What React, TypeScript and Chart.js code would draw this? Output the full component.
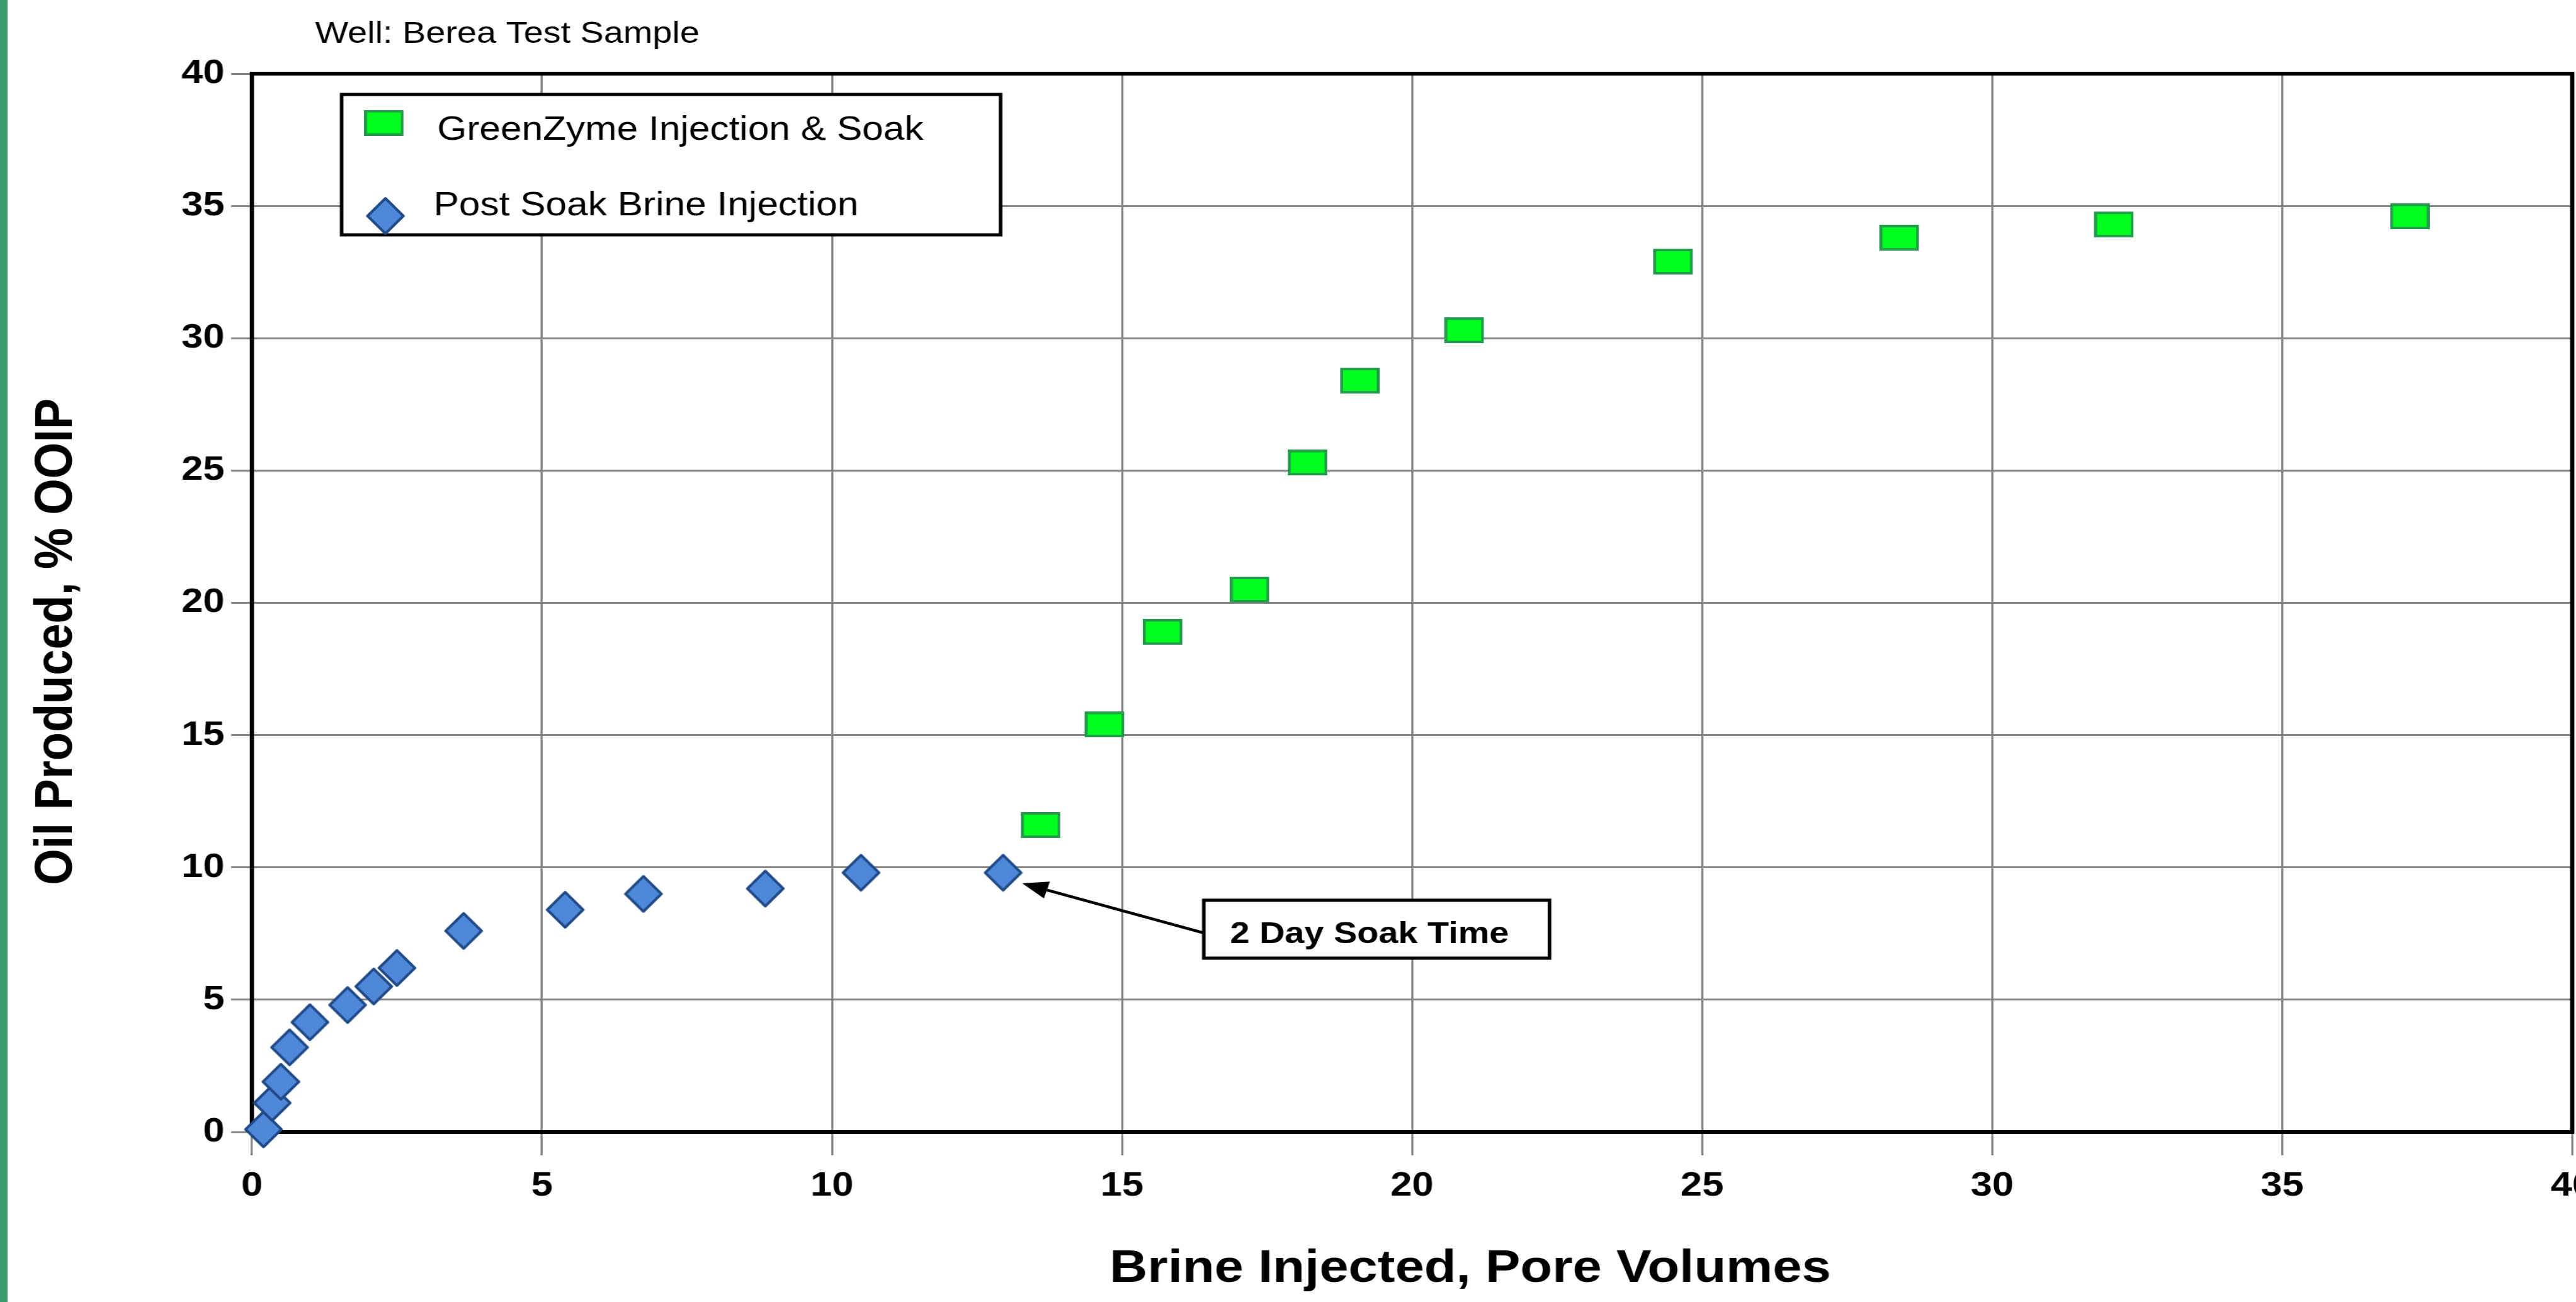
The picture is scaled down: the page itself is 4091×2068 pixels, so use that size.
import React, { useEffect, useRef } from 'react';
import { Chart, registerables } from 'chart.js';

Chart.register(...registerables);

// ---------- data ----------
const seriesNames = ['GreenZyme Injection & Soak', 'Post Soak Brine Injection'];
const soakX = [13.6, 14.7, 15.7, 17.2, 18.2, 19.1, 20.9, 24.5, 28.4, 32.1, 37.2];
const soakY = [11.6, 15.4, 18.9, 20.5, 25.3, 28.4, 30.3, 32.9, 33.8, 34.3, 34.6];
const brineX = [0.2, 0.35, 0.5, 0.65, 1.0, 1.65, 2.1, 2.5, 3.65, 5.4, 6.75, 8.85, 10.5, 12.95];
const brineY = [0.1, 1.1, 1.9, 3.2, 4.15, 4.8, 5.5, 6.2, 7.6, 8.4, 9.0, 9.2, 9.8, 9.8];
const xTicks = [0, 5, 10, 15, 20, 25, 30, 35, 40];
const yTicks = [0, 5, 10, 15, 20, 25, 30, 35, 40];
const chartTitle = 'Well: Berea Test Sample';
const xTitle = 'Brine Injected, Pore Volumes';
const yTitle = 'Oil Produced, % OOIP';
const noteText = '2 Day Soak Time';
const noteBox = { x0: 16.41, x1: 22.37, y0: 6.57, y1: 8.76 };
const arrowFrom = { x: 16.41, y: 7.52 };
const arrowTo = { x: 13.28, y: 9.4 };

// ---------- look ----------
const S = 1.14; // horizontal stretch of the reference picture
const PAGE_W = 4091;
const PAGE_H = 2068;
const CW = 3640; // canvas width before stretch (extra part is clipped)
const FONT = "'Liberation Sans', Arial, Helvetica, sans-serif";
const GREEN = '#00ff1e';
const GREEN_EDGE = '#239b4b';
const BLUE = '#4f87d9';
const BLUE_EDGE = '#1f4a86';
const GRID = '#858585';

function makeRect(w: number, h: number, fill: string, stroke: string, lw: number) {
  const c = document.createElement('canvas');
  c.width = w;
  c.height = h;
  const g = c.getContext('2d')!;
  g.fillStyle = fill;
  g.fillRect(0, 0, w, h);
  g.strokeStyle = stroke;
  g.lineWidth = lw;
  g.strokeRect(lw / 2, lw / 2, w - lw, h - lw);
  return c;
}

function makeDiamond(w: number, h: number, fill: string, stroke: string, lw: number) {
  const c = document.createElement('canvas');
  c.width = w;
  c.height = h;
  const g = c.getContext('2d')!;
  const p = lw;
  g.beginPath();
  g.moveTo(w / 2, p);
  g.lineTo(w - p, h / 2);
  g.lineTo(w / 2, h - p);
  g.lineTo(p, h / 2);
  g.closePath();
  g.fillStyle = fill;
  g.fill();
  g.strokeStyle = stroke;
  g.lineWidth = lw;
  g.lineJoin = 'round';
  g.stroke();
  return c;
}

export default function App() {
  const ref = useRef<HTMLCanvasElement>(null);

  useEffect(() => {
    const canvas = ref.current!;
    const greenImg = makeRect(55, 41, GREEN, GREEN_EDGE, 4);
    const blueImg = makeDiamond(58, 64, BLUE, BLUE_EDGE, 4);

    const decor = {
      id: 'decor',
      beforeDatasetsDraw(chart: any) {
        const { ctx, chartArea: a } = chart;
        ctx.save();
        ctx.strokeStyle = '#000';
        ctx.lineWidth = 6;
        ctx.strokeRect(a.left, a.top, a.right - a.left, a.bottom - a.top);
        ctx.restore();
      },
      afterDatasetsDraw(chart: any) {
        const { ctx, chartArea: a } = chart;
        const xs = chart.scales.x;
        const ys = chart.scales.y;
        ctx.save();

        // chart title
        ctx.fillStyle = '#000';
        ctx.font = `49px ${FONT}`;
        ctx.textBaseline = 'alphabetic';
        ctx.textAlign = 'left';
        ctx.fillText(chartTitle, a.left + 88, 68);

        // legend box
        const lx = a.left + 125;
        const ly = a.top + 33;
        const lw = 918;
        const lh = 223;
        ctx.fillStyle = '#fff';
        ctx.fillRect(lx, ly, lw, lh);
        ctx.strokeStyle = '#000';
        ctx.lineWidth = 5;
        ctx.strokeRect(lx, ly, lw, lh);
        ctx.drawImage(greenImg, lx + 59 - greenImg.width / 2, ly + 45 - greenImg.height / 2);
        ctx.drawImage(blueImg, lx + 61 - blueImg.width / 2, ly + 193 - blueImg.height / 2);
        ctx.fillStyle = '#000';
        ctx.font = `53px ${FONT}`;
        ctx.fillText(seriesNames[0], lx + 133, ly + 72);
        ctx.fillText(seriesNames[1], lx + 128, ly + 192);

        // annotation box + arrow
        const bx0 = xs.getPixelForValue(noteBox.x0);
        const bx1 = xs.getPixelForValue(noteBox.x1);
        const by0 = ys.getPixelForValue(noteBox.y1);
        const by1 = ys.getPixelForValue(noteBox.y0);
        ctx.fillStyle = '#fff';
        ctx.fillRect(bx0, by0, bx1 - bx0, by1 - by0);
        ctx.strokeStyle = '#000';
        ctx.lineWidth = 5;
        ctx.strokeRect(bx0, by0, bx1 - bx0, by1 - by0);
        ctx.fillStyle = '#000';
        ctx.font = `bold 49px ${FONT}`;
        ctx.textAlign = 'center';
        ctx.textBaseline = 'alphabetic';
        ctx.fillText(noteText, (bx0 + bx1) / 2 - 10, by1 - 24);

        const sx = xs.getPixelForValue(arrowFrom.x);
        const sy = ys.getPixelForValue(arrowFrom.y);
        const tx = xs.getPixelForValue(arrowTo.x);
        const ty = ys.getPixelForValue(arrowTo.y);
        const ang = Math.atan2(ty - sy, tx - sx);
        const head = 36;
        const half = 14;
        const bxh = tx - head * Math.cos(ang);
        const byh = ty - head * Math.sin(ang);
        ctx.beginPath();
        ctx.moveTo(sx, sy);
        ctx.lineTo(bxh, byh);
        ctx.lineWidth = 4.5;
        ctx.stroke();
        ctx.beginPath();
        ctx.moveTo(tx, ty);
        ctx.lineTo(bxh + half * Math.sin(ang), byh - half * Math.cos(ang));
        ctx.lineTo(bxh - half * Math.sin(ang), byh + half * Math.cos(ang));
        ctx.closePath();
        ctx.fill();
        ctx.restore();
      },
    };

    const chart = new Chart(canvas, {
      type: 'scatter',
      data: {
        datasets: [
          {
            label: seriesNames[0],
            data: soakX.map((x, i) => ({ x, y: soakY[i] })),
            pointStyle: greenImg as any,
            pointRadius: 30,
            backgroundColor: GREEN,
            borderColor: GREEN_EDGE,
            clip: false as any,
          },
          {
            label: seriesNames[1],
            data: brineX.map((x, i) => ({ x, y: brineY[i] })),
            pointStyle: blueImg as any,
            pointRadius: 30,
            backgroundColor: BLUE,
            borderColor: BLUE_EDGE,
            clip: false as any,
          },
        ],
      },
      options: {
        animation: false,
        responsive: true,
        maintainAspectRatio: false,
        events: [],
        layout: { padding: { left: 0, top: 117, right: CW - 3583.3, bottom: 0 } },
        plugins: {
          legend: { display: false },
          tooltip: { enabled: false },
        },
        scales: {
          x: {
            type: 'linear',
            min: 0,
            max: 40,
            afterBuildTicks: (s: any) => {
              s.ticks = xTicks.map((v) => ({ value: v }));
            },
            afterFit: (s: any) => {
              s.height = PAGE_H - 1798;
            },
            grid: { color: GRID, lineWidth: 3, drawTicks: true, tickLength: 37 },
            border: { display: false },
            ticks: {
              color: '#000',
              font: { family: FONT, size: 54, weight: 'bold', lineHeight: 1.2 },
              padding: 17,
              maxRotation: 0,
              autoSkip: false,
            },
            title: {
              display: true,
              text: '        ' + xTitle,
              color: '#000',
              font: { family: FONT, size: 73, weight: 'bold', lineHeight: 1.2 },
              padding: { top: 0, bottom: 8 },
            },
          },
          y: {
            type: 'linear',
            min: 0,
            max: 40,
            afterBuildTicks: (s: any) => {
              s.ticks = yTicks.map((v) => ({ value: v }));
            },
            afterFit: (s: any) => {
              s.width = 350.9;
            },
            grid: { color: GRID, lineWidth: 3, drawTicks: true, tickLength: 29 },
            border: { display: false },
            ticks: {
              color: '#000',
              font: { family: FONT, size: 54, weight: 'bold', lineHeight: 1.2 },
              padding: 9,
              autoSkip: false,
            },
            title: {
              display: true,
              text: yTitle + '      ',
              color: '#000',
              font: { family: FONT, size: 74, weight: 'bold', lineHeight: 1.2 },
              padding: { top: 35, bottom: 0 },
            },
          },
        },
      },
      plugins: [decor],
    });

    return () => chart.destroy();
  }, []);

  return (
    <div
      style={{
        position: 'absolute',
        left: 0,
        top: 0,
        width: PAGE_W,
        height: PAGE_H,
        overflow: 'hidden',
        background: '#fff',
      }}
    >
      <div
        style={{
          position: 'absolute',
          left: 0,
          top: 0,
          width: CW,
          height: PAGE_H,
          transform: `scaleX(${S})`,
          transformOrigin: '0 0',
        }}
      >
        <canvas ref={ref} />
      </div>
      <div
        style={{
          position: 'absolute',
          left: 0,
          top: 0,
          width: 12,
          height: PAGE_H,
          background: '#3a9b6b',
        }}
      />
    </div>
  );
}
